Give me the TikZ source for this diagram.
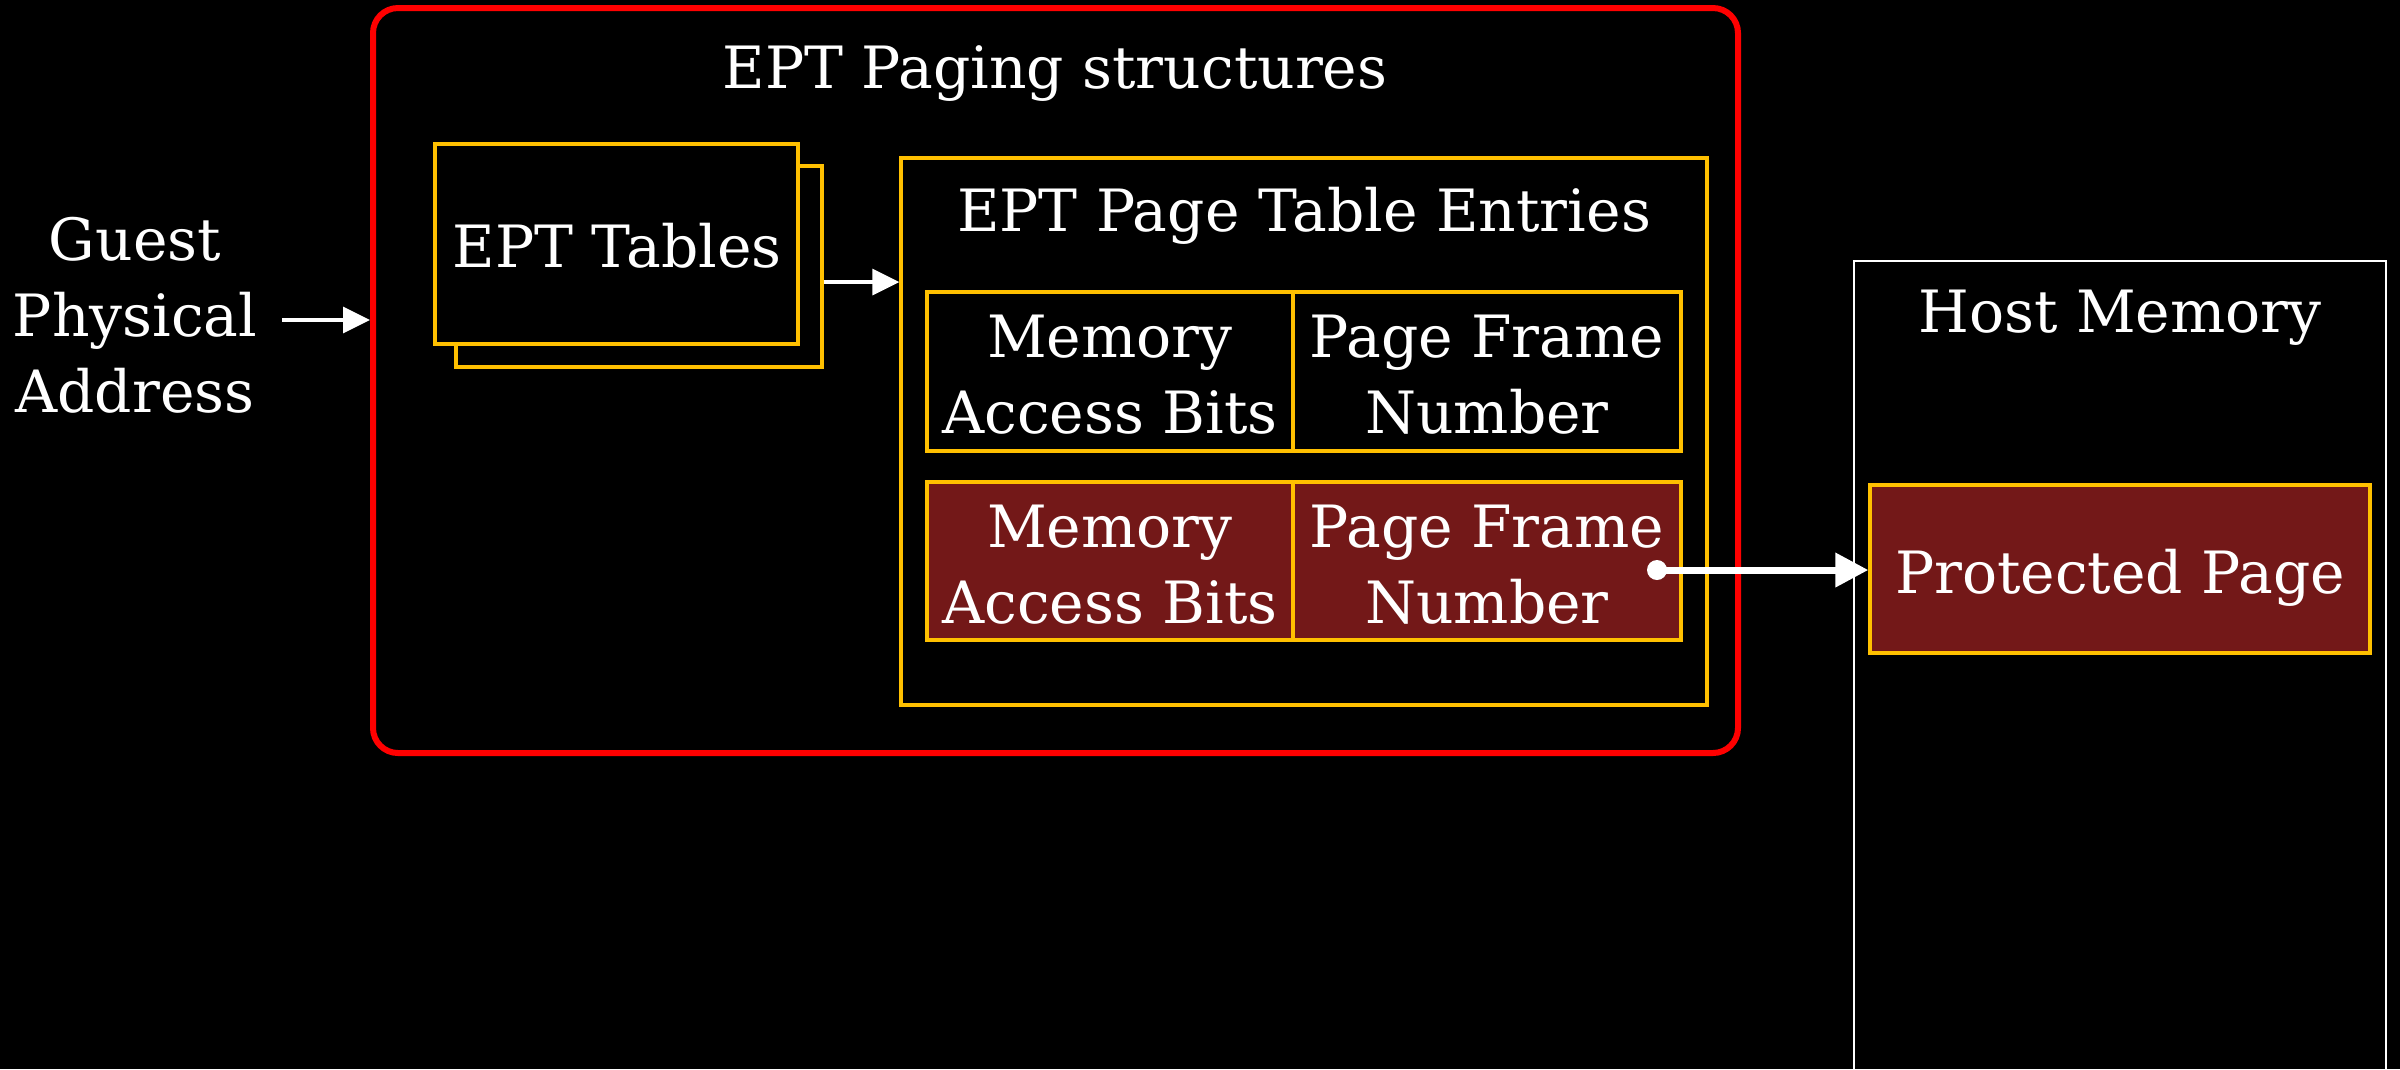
\documentclass[tikz,border=0pt]{standalone}
\usepackage{fontspec}
\setmainfont{DejaVu Serif}
\usetikzlibrary{arrows.meta,fit}
\definecolor{gold}{HTML}{FFC000}
\definecolor{maroonfill}{HTML}{731818}
\definecolor{redframe}{HTML}{FF0000}
\begin{document}
\begin{tikzpicture}[x=0.3pt,y=-0.3pt,
  lbl/.style={text=white,font=\fontsize{17.5}{22.8}\selectfont,align=center,inner sep=0pt,anchor=base},
  goldbox/.style={draw=gold,line width=1pt,inner sep=0pt},
  entrybox/.style={goldbox,fill=maroonfill},
  thinarrow/.style={draw=white,line width=1pt,-{Triangle[length=8.1pt,width=7.8pt]}},
  thickarrow/.style={draw=white,line width=2.1pt,-{Triangle[length=9.9pt,width=9.9pt]}}]
% page background
\fill[black] (0,0) rectangle (2400,1069);
\useasboundingbox (0,0) rectangle (2400,1069);

% EPT paging structures frame
\node[draw=redframe,line width=1.8pt,rounded corners=7.5pt,inner sep=0pt,fit={(373,8)(1738,753)}] (ept) {};
\node[lbl] (epttitle) at (1055,88) {EPT Paging structures};

% stacked EPT tables
\node[goldbox,fill=black,fit={(456,166)(822,367)}] (tabB) {};
\node[goldbox,fill=black,fit={(435,144)(798,344)}] (tabA) {};
\node[lbl] (tabtxt) at (617,267) {EPT Tables};

% page table entries (multi-line labels sit on their last baseline)
\node[goldbox,fit={(901,158)(1707,705)}] (pte) {};
\node[lbl] (ptetitle) at (1304,231) {EPT Page Table Entries};

\node[goldbox,fit={(927,292)(1293,451)}] (mab1) {};
\node[goldbox,fit={(1293,292)(1681,451)}] (pfn1) {};
\node[lbl] (mab1txt) at (1110,433) {Memory\\Access Bits};
\node[lbl] (pfn1txt) at (1487,433) {Page Frame\\Number};

\node[entrybox,fit={(927,482)(1293,640)}] (mab2) {};
\node[entrybox,fit={(1293,482)(1681,640)}] (pfn2) {};
\node[lbl] (mab2txt) at (1110,623) {Memory\\Access Bits};
\node[lbl] (pfn2txt) at (1487,623) {Page Frame\\Number};

% host memory
\draw[white,line width=0.75pt] (1854,1090) |- (2386,261) -- (2386,1090);
\node[lbl] (hosttxt) at (2120,332) {Host Memory};
\node[entrybox,fit={(1870,485)(2370,653)}] (prot) {};
\node[lbl] (prottxt) at (2120,593) {Protected Page};

% guest physical address input
\node[lbl] (gpa) at (135,412) {Guest\\Physical\\Address};

% connectors
\coordinate (gpaout) at (282,320);
\draw[thinarrow] (gpaout) -- (gpaout -| ept.west);
\coordinate (ptein) at (901,282);
\draw[thinarrow] (tabB.east |- ptein) -- (ptein -| pte.west);
\coordinate (pfnsrc) at (1657,570);
\fill[white] (pfnsrc) circle (3pt);
\draw[thickarrow] (pfnsrc) -- (pfnsrc -| prot.west);
\end{tikzpicture}
\end{document}
